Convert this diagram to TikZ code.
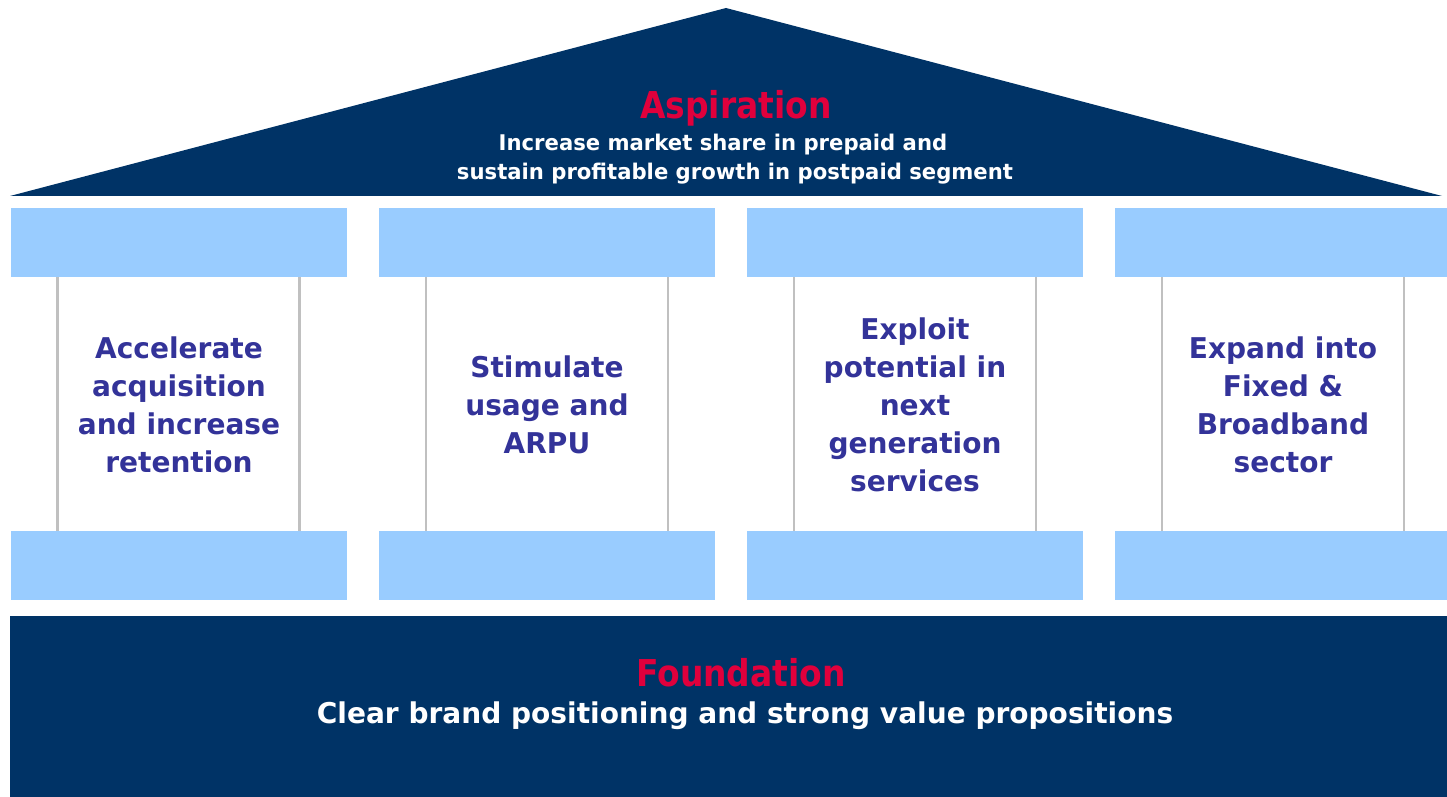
\documentclass[tikz,border=0pt]{standalone}
\usepackage{fontspec}
\setmainfont{DejaVu Sans}
\newfontfamily\headfont[FakeStretch=0.89]{DejaVu Sans Bold}
\newfontfamily\housefont[FakeStretch=0.98]{DejaVu Sans Bold}
\definecolor{navy}{HTML}{003366}
\definecolor{capblue}{HTML}{99CCFF}
\definecolor{accent}{HTML}{E0003C}
\definecolor{pillartext}{HTML}{333399}
\definecolor{shaft}{HTML}{C0C0C0}
\begin{document}
\begin{tikzpicture}[x=0.5pt,y=-0.5pt,
  capital/.style={fill=capblue,draw=none},
  shaftline/.style={draw=shaft,line width=1.2pt},
  pillarlabel/.style={text=pillartext,font=\housefont\fontsize{14.3}{19}\selectfont,align=center,inner sep=0pt},
  heading/.style={text=accent,font=\headfont\fontsize{18.5}{20}\selectfont,inner sep=0pt,anchor=base},
  subline/.style={text=white,font=\housefont\fontsize{10.8}{14.5}\selectfont,align=center,inner sep=0pt},
  footline/.style={text=white,font=\housefont\fontsize{14.3}{18}\selectfont,inner sep=0pt,anchor=base}]
\useasboundingbox (0,0) rectangle (1447,797);
% roof
\fill[navy] (10,196) coordinate (eaveL) -- (726,8) coordinate (apex) -- (1442,196) coordinate (eaveR) -- cycle;
\node[heading] (asp) at (736,119) {Aspiration};
\node[subline,anchor=north] (aspsub) at (735,134) {Increase market share in prepaid and\hspace*{12pt}\\sustain profitable growth in postpaid segment};
% pillars: capital, shaft lines, base
\foreach \c/\i in {178.5/1,547/2,915/3,1283/4}{
  \fill[capital] (\c-168,208) rectangle (\c+168,277);
  \fill[capital] (\c-168,531) rectangle (\c+168,600);
  \coordinate (sl\i) at (\c-121,277);
  \coordinate (sr\i) at (\c+121,277);
  \coordinate (bl\i) at (\c-121,531);
  \coordinate (br\i) at (\c+121,531);
  \draw[shaftline] (sl\i) -- (bl\i);
  \draw[shaftline] (sr\i) -- (br\i);
}
\node[pillarlabel] (p1) at (179,405) {Accelerate\\acquisition\\and increase\\retention};
\node[pillarlabel] (p2) at (547,405) {Stimulate\\usage and\\ARPU};
\node[pillarlabel] (p3) at (915,405) {Exploit\\potential in\\next\\generation\\services};
\node[pillarlabel] (p4) at (1283,405) {Expand into\\Fixed \&\\Broadband\\sector};
% foundation
\fill[navy] (10,616) rectangle (1447,797);
\node[heading] (fnd) at (741,686) {Foundation};
\node[footline] (fndsub) at (745,723) {Clear brand positioning and strong value propositions};
\end{tikzpicture}
\end{document}
